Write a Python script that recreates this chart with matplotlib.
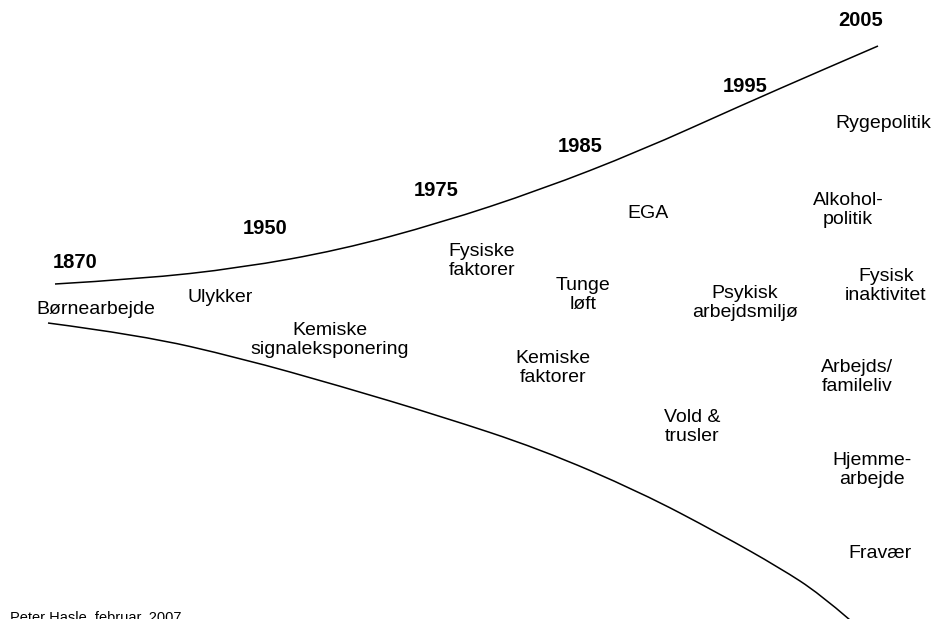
import matplotlib.pyplot as plt
from matplotlib.path import Path
from matplotlib.patches import PathPatch

plt.rcParams['font.family'] = ['Liberation Sans', 'DejaVu Sans']

# upper boundary of the funnel (pixel coords, y down)
upper_x = [55, 140, 240, 340, 440, 540, 640, 740, 820, 878]
upper_y = [284, 279, 268, 250, 223, 190, 151, 106, 71, 46]

# lower boundary of the funnel
lower_x = [48, 140, 240, 340, 440, 540, 640, 720, 780, 820, 850]
lower_y = [323, 335, 358, 386, 416, 449, 492, 534, 568, 594, 620]

years = ["1870", "1950", "1975", "1985", "1995", "2005"]
year_x = [75, 265, 436, 580, 745, 861]
year_y = [262, 229, 190, 147, 86, 20]

topics = ["Børnearbejde", "Ulykker", "Kemiske\nsignaleksponering",
          "Fysiske\nfaktorer", "Tunge\nløft", "Kemiske\nfaktorer", "EGA",
          "Psykisk\narbejdsmiljø", "Vold &\ntrusler", "Rygepolitik",
          "Alkohol-\npolitik", "Fysisk\ninaktivitet", "Arbejds/\nfamileliv",
          "Hjemme-\narbejde", "Fravær"]
topic_x = [96, 220, 330, 482, 583, 553, 648, 745, 692, 883, 848, 886, 857, 872, 880]
topic_y = [310, 298, 340, 261, 295, 368, 214, 303, 427, 123, 210, 286, 377, 470, 553]


def smooth_path(xs, ys):
    # quadratic segments through the midpoints, so the line has no kinks
    pts = list(zip(xs, ys))
    verts = [pts[0]]
    codes = [Path.MOVETO]
    for i in range(1, len(pts) - 1):
        nxt = pts[i + 1] if i == len(pts) - 2 else (
            (pts[i][0] + pts[i + 1][0]) / 2, (pts[i][1] + pts[i + 1][1]) / 2)
        verts += [pts[i], nxt]
        codes += [Path.CURVE3, Path.CURVE3]
    return Path(verts, codes)


fig = plt.figure(figsize=(9.47, 6.19), dpi=100)
ax = fig.add_axes([0, 0, 1, 1])
ax.set_xlim(0, 947)
ax.set_ylim(619, 0)
ax.axis("off")

for xs, ys in [(upper_x, upper_y), (lower_x, lower_y)]:
    ax.add_patch(PathPatch(smooth_path(xs, ys), fill=False, edgecolor="black", lw=1.1))

for t, x, y in zip(years, year_x, year_y):
    ax.text(x, y, t, fontsize=14.5, fontweight="bold", ha="center", va="center")

for t, x, y in zip(topics, topic_x, topic_y):
    ax.text(x, y, t, fontsize=14, ha="center", va="center", linespacing=1.2)

ax.text(10, 611, "Peter Hasle, februar, 2007", fontsize=10.5, ha="left", va="top")

fig.savefig("out.png", dpi=100)
